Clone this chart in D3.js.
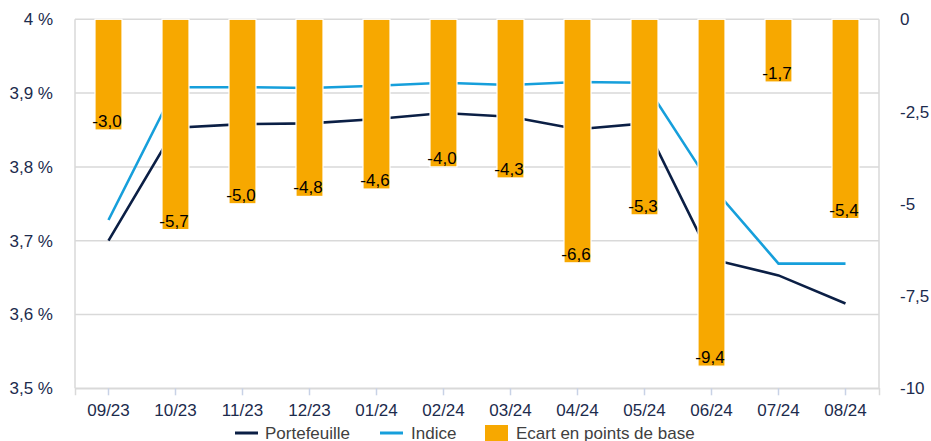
<!DOCTYPE html>
<html>
<head>
<meta charset="utf-8">
<script src="https://cdn.jsdelivr.net/npm/d3@7"></script>
<style>
  html, body { margin: 0; padding: 0; background: #ffffff; }
  svg { display: block; font-family: "Liberation Sans", Arial, sans-serif; }
</style>
</head>
<body>
<svg id="chart" width="931" height="441"></svg>
<script>
// Monthly periods
const months = ["09/23", "10/23", "11/23", "12/23", "01/24", "02/24", "03/24", "04/24", "05/24", "06/24", "07/24", "08/24"];
// Yield of the portfolio (%)
const portefeuille = [3.700, 3.853, 3.858, 3.859, 3.865, 3.873, 3.868, 3.851, 3.859, 3.675, 3.653, 3.615];
// Yield of the index (%)
const indice = [3.728, 3.908, 3.908, 3.907, 3.910, 3.914, 3.911, 3.915, 3.914, 3.774, 3.669, 3.669];
// Gap in basis points
const ecart = [-3.0, -5.7, -5.0, -4.8, -4.6, -4.0, -4.3, -6.6, -5.3, -9.4, -1.7, -5.4];
// Axis ticks
const leftTicks = [3.5, 3.6, 3.7, 3.8, 3.9, 4.0];
const rightTicks = [0, -2.5, -5, -7.5, -10];

const svg = d3.select("#chart");
const m = { left: 75, right: 879, top: 19.3, bottom: 388.3 };

const x = d3.scaleBand().domain(months).range([m.left, m.right]).paddingInner(0).paddingOuter(0);
const yL = d3.scaleLinear().domain([3.5, 4.0]).range([m.bottom, m.top]);
const yR = d3.scaleLinear().domain([-10, 0]).range([m.bottom, m.top]);

const navy = "#0b1f45";
const blue = "#169fdb";
const orange = "#f7a800";
const grid = "#d9d9d9";
const axisText = "#1c2b4d";
// French decimal comma, plain hyphen for negatives
const frNum = (v, spec) => d3.format(spec)(v).replace(".", ",").replace("\u2212", "-");
const fmt = v => frNum(v, ".1f");

// Horizontal gridlines
svg.append("g").selectAll("line").data(leftTicks).join("line")
  .attr("x1", m.left).attr("x2", m.right)
  .attr("y1", d => yL(d)).attr("y2", d => yL(d))
  .attr("stroke", grid).attr("stroke-width", 1.5);

// Side frame
svg.append("line").attr("x1", m.left).attr("x2", m.left).attr("y1", m.top).attr("y2", m.bottom)
  .attr("stroke", grid).attr("stroke-width", 1.5);
svg.append("line").attr("x1", m.right).attr("x2", m.right).attr("y1", m.top).attr("y2", m.bottom)
  .attr("stroke", grid).attr("stroke-width", 1.5);

// Left axis (yield %)
const gL = svg.append("g").attr("transform", `translate(${m.left},0)`)
  .call(d3.axisLeft(yL).tickValues(leftTicks).tickSize(0).tickPadding(22)
    .tickFormat(d => (d === 4 ? "4" : fmt(d)) + " %"));
gL.select(".domain").remove();
gL.selectAll("text").attr("fill", axisText).style("font-size", "17px")
  .style("font-family", "Liberation Sans, Arial, sans-serif");

// Right axis (basis points)
const gR = svg.append("g").attr("transform", `translate(${m.right},0)`)
  .call(d3.axisRight(yR).tickValues(rightTicks).tickSize(0).tickPadding(21)
    .tickFormat(d => frNum(d, "")));
gR.select(".domain").remove();
gR.selectAll("text").attr("fill", axisText).style("font-size", "17px")
  .style("font-family", "Liberation Sans, Arial, sans-serif");

// Bottom axis
const gB = svg.append("g").attr("transform", `translate(0,${m.bottom})`)
  .call(d3.axisBottom(x).tickSize(7).tickPadding(9));
gB.select(".domain").attr("stroke", grid).attr("stroke-width", 1.5);
gB.selectAll(".tick line").attr("stroke", "#c8d2e6").attr("stroke-width", 1.5);
gB.selectAll("text").attr("fill", axisText).style("font-size", "17px")
  .style("font-family", "Liberation Sans, Arial, sans-serif");

// Lines
const lineL = d3.line().x((d, i) => x(months[i]) + x.bandwidth() / 2).y(d => yL(d));
svg.append("path").datum(indice).attr("d", lineL)
  .attr("fill", "none").attr("stroke", blue).attr("stroke-width", 2.6);
svg.append("path").datum(portefeuille).attr("d", lineL)
  .attr("fill", "none").attr("stroke", navy).attr("stroke-width", 2.6);

// Bars (gap in bp), hanging from zero
const bw = 27;
svg.append("g").selectAll("rect").data(ecart).join("rect")
  .attr("x", (d, i) => x(months[i]) + x.bandwidth() / 2 - bw / 2)
  .attr("y", yR(0))
  .attr("width", bw)
  .attr("height", d => yR(d) - yR(0))
  .attr("fill", orange)
  .attr("stroke", "#ffffff").attr("stroke-width", 1.2);

// Bar value labels
svg.append("g").selectAll("text").data(ecart).join("text")
  .attr("x", (d, i) => x(months[i]) + x.bandwidth() / 2 - 1.5)
  .attr("y", d => yR(d) - 3)
  .attr("text-anchor", "middle")
  .attr("fill", "#000000")
  .style("font-size", "17px")
  .text(d => fmt(d));

// Legend
const lg = svg.append("g");
const ly = 433;
lg.append("line").attr("x1", 235).attr("x2", 258).attr("y1", ly).attr("y2", ly)
  .attr("stroke", navy).attr("stroke-width", 3);
lg.append("text").attr("x", 265).attr("y", 438.5).attr("fill", "#404040")
  .style("font-size", "17px").text("Portefeuille");
lg.append("line").attr("x1", 380).attr("x2", 403).attr("y1", ly).attr("y2", ly)
  .attr("stroke", blue).attr("stroke-width", 3);
lg.append("text").attr("x", 411).attr("y", 438.5).attr("fill", "#404040")
  .style("font-size", "17px").text("Indice");
lg.append("rect").attr("x", 485).attr("y", 425).attr("width", 23).attr("height", 18)
  .attr("fill", orange);
lg.append("text").attr("x", 516).attr("y", 438.5).attr("fill", "#404040")
  .style("font-size", "17px").text("Ecart en points de base");
</script>
</body>
</html>
